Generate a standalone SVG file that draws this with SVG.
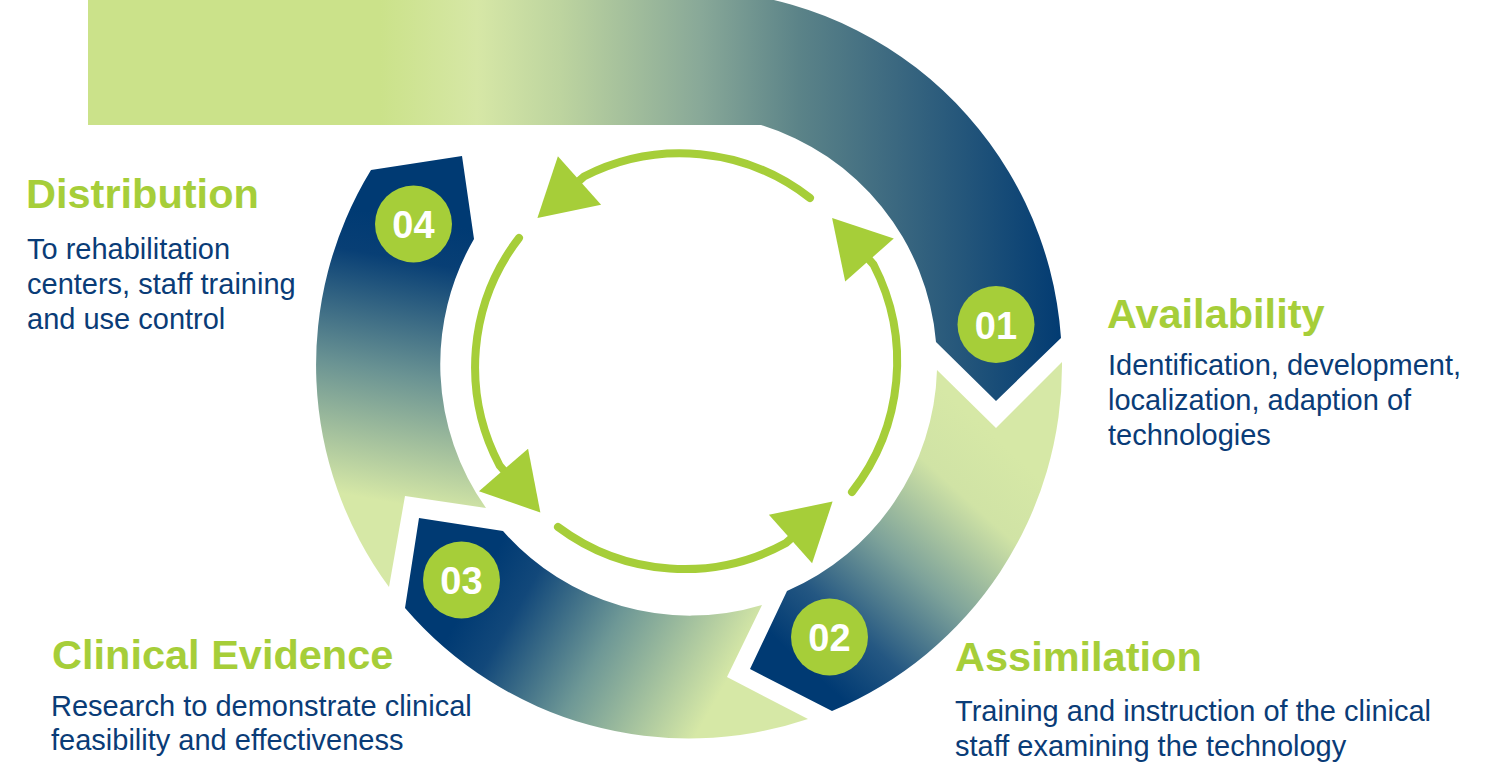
<svg xmlns="http://www.w3.org/2000/svg" width="1500" height="781" viewBox="0 0 1500 781">
  <style>
    .num-bg { fill: #a6ce39; }
    .num { fill: #ffffff; font-family: "Liberation Sans", Arial, sans-serif; font-weight: bold; font-size: 38px; text-anchor: middle; }
    .head { fill: #a6ce39; font-family: "Liberation Sans", Arial, sans-serif; font-weight: bold; font-size: 41.5px; }
    .body { fill: #0a3c77; font-family: "Liberation Sans", Arial, sans-serif; font-size: 29px; }
    .flow { fill: none; stroke: #a6ce39; stroke-width: 8; stroke-linecap: round; }
  </style>
  <defs>
    <linearGradient id="g1" gradientUnits="userSpaceOnUse" x1="88" y1="0" x2="1062" y2="0">
      <stop offset="0" stop-color="#cbe28a"/>
      <stop offset="0.30" stop-color="#cbe28a"/>
      <stop offset="0.40" stop-color="#d6e7a6"/>
      <stop offset="0.485" stop-color="#bdd49f"/>
      <stop offset="0.63" stop-color="#88a898"/>
      <stop offset="0.73" stop-color="#5b8388"/>
      <stop offset="0.83" stop-color="#3b6880"/>
      <stop offset="1" stop-color="#023b72"/>
    </linearGradient>
    <linearGradient id="g2" gradientUnits="userSpaceOnUse" x1="1010" y1="450" x2="810" y2="670">
      <stop offset="0" stop-color="#d6e8a6"/>
      <stop offset="0.22" stop-color="#d0e3a5"/>
      <stop offset="0.52" stop-color="#7da29a"/>
      <stop offset="0.8" stop-color="#245782"/>
      <stop offset="1" stop-color="#003a73"/>
    </linearGradient>
    <linearGradient id="g3" gradientUnits="userSpaceOnUse" x1="770" y1="700" x2="500" y2="545">
      <stop offset="0" stop-color="#d6e8a6"/>
      <stop offset="0.15" stop-color="#d6e8a6"/>
      <stop offset="0.55" stop-color="#6e9896"/>
      <stop offset="0.85" stop-color="#12487a"/>
      <stop offset="1" stop-color="#003a73"/>
    </linearGradient>
    <linearGradient id="g4" gradientUnits="userSpaceOnUse" x1="360" y1="560" x2="420" y2="220">
      <stop offset="0" stop-color="#d6e8a6"/>
      <stop offset="0.18" stop-color="#d6e8a6"/>
      <stop offset="0.55" stop-color="#6a9393"/>
      <stop offset="0.88" stop-color="#083f75"/>
      <stop offset="1" stop-color="#003a73"/>
    </linearGradient>
    <marker id="head" viewBox="0 -32.5 57 65" refX="0" refY="0" markerWidth="57" markerHeight="65" markerUnits="userSpaceOnUse" orient="auto" overflow="visible">
      <path d="M0,-32.5 L56.3,0 L0,32.5 Z" fill="#a6ce39"/>
    </marker>
  </defs>

  <g id="stage-01">
    <path d="M88,-10 H688 A374,374 0 0 1 1061,338 L996,401 L936,342 A249,249 0 0 0 761,125 H88 Z" fill="url(#g1)"/>
    <circle class="num-bg" cx="996" cy="324.5" r="38.5"/>
    <text class="num" x="996" y="338.5">01</text>
    <text class="head" x="1107" y="328">Availability</text>
    <text class="body" x="1108" y="375">Identification, development,</text>
    <text class="body" x="1108" y="410">localization, adaption of</text>
    <text class="body" x="1108" y="445">technologies</text>
  </g>

  <g id="stage-02">
    <path d="M937,370 L996,428 L1062,362 A374,374 0 0 1 832,711 L750,669 L787,591 A249,249 0 0 0 937,370 Z" fill="url(#g2)"/>
    <circle class="num-bg" cx="829.5" cy="637" r="38.5"/>
    <text class="num" x="829.5" y="651">02</text>
    <text class="head" x="955" y="671">Assimilation</text>
    <text class="body" x="955" y="721">Training and instruction of the clinical</text>
    <text class="body" x="955" y="756">staff examining the technology</text>
  </g>

  <g id="stage-03">
    <path d="M762,605 L727,677 L808,719 A374,374 0 0 1 405,608 L419,518 L503,531 A249,249 0 0 0 762,605 Z" fill="url(#g3)"/>
    <circle class="num-bg" cx="461.5" cy="580" r="38.5"/>
    <text class="num" x="461.5" y="594">03</text>
    <text class="head" x="52" y="669">Clinical Evidence</text>
    <text class="body" x="51" y="716">Research to demonstrate clinical</text>
    <text class="body" x="51" y="750">feasibility and effectiveness</text>
  </g>

  <g id="stage-04">
    <path d="M486,508 L405,496 L389,587 A374,374 0 0 1 371,170 L462,156 L474,239 A249,249 0 0 0 486,508 Z" fill="url(#g4)"/>
    <circle class="num-bg" cx="413.5" cy="224" r="38.5"/>
    <text class="num" x="413.5" y="238">04</text>
    <text class="head" x="26" y="208">Distribution</text>
    <text class="body" x="27" y="259">To rehabilitation</text>
    <text class="body" x="27" y="294">centers, staff training</text>
    <text class="body" x="27" y="329">and use control</text>
  </g>

  <g id="connectors">
    <path class="flow" d="M810,198 A211,211 0 0 0 584,176.5 L579.5,180.5" marker-end="url(#head)"/>
    <path class="flow" d="M852,492 A211,211 0 0 0 873.5,264.5 L869.5,260" marker-end="url(#head)"/>
    <path class="flow" d="M519,238 A211,211 0 0 0 499.6,465.5 L503.5,470" marker-end="url(#head)"/>
    <path class="flow" d="M558,527 A211,211 0 0 0 786,543 L790.5,539" marker-end="url(#head)"/>
  </g>
</svg>
